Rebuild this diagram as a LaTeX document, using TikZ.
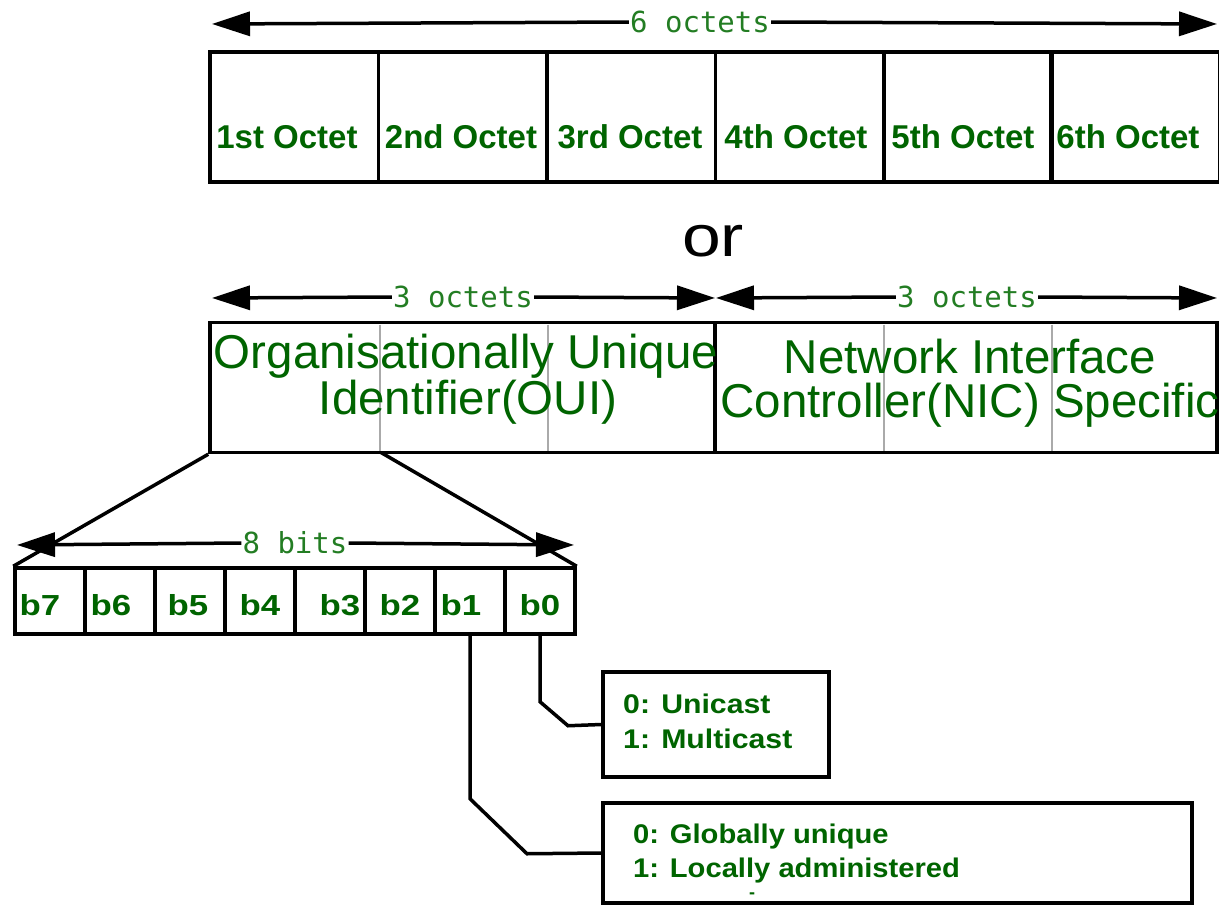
\documentclass[tikz,border=0pt]{standalone}
\usepackage{fontspec}
\setmainfont{Liberation Sans}
\newfontfamily\monof{DejaVu Sans Mono}
\usetikzlibrary{arrows.meta}
\definecolor{txtgreen}{RGB}{0,100,0}
\definecolor{lblgreen}{RGB}{35,125,35}
\definecolor{divgray}{RGB}{170,170,170}
\begin{document}
\begin{tikzpicture}[x=1pt,y=-1pt,
  box/.style={draw=black,line width=3.5pt,inner sep=0pt,rectangle},
  octbox/.style={box,minimum width=168.5pt,minimum height=130pt},
  bitbox/.style={box,minimum width=70pt,minimum height=66pt},
  dimtip/.style={line width=3.5pt,-{Triangle[length=38pt,width=24pt]}},
  dimlbl/.style={fill=white,inner sep=1pt,text=lblgreen,font=\monof\fontsize{29}{32}\selectfont},
  octtxt/.style={inner sep=0pt,anchor=base,text=txtgreen,font=\fontsize{33}{36}\selectfont\bfseries},
  bigtxt/.style={inner sep=0pt,anchor=base,text=txtgreen,font=\fontsize{47.5}{50}\selectfont},
  bittxt/.style={inner sep=0pt,anchor=base,text=txtgreen,font=\fontsize{29}{32}\selectfont\bfseries},
  notetxt/.style={inner sep=0pt,anchor=base west,text=txtgreen,font=\fontsize{27}{30}\selectfont\bfseries},
  conn/.style={line width=3.5pt,line join=miter}
]
\useasboundingbox (0,0) rectangle (1219,905);

% ---------- top row: 6 octets ----------
\coordinate (tl) at (212,24);
\coordinate (tr) at (1217,24);
\node[dimlbl] (six) at (700,22) {6 octets};
\draw[dimtip] (six.west) -- (tl);
\draw[dimtip] (six.east) -- (tr);

\node[octbox] (o1) at (294.25,117) {};
\node[octbox] (o2) at (462.75,117) {};
\node[octbox] (o3) at (631.25,117) {};
\node[octbox] (o4) at (799.75,117) {};
\node[octbox] (o5) at (968.25,117) {};
\node[octbox] (o6) at (1135,117) {};
\node[octtxt] (t1) at (287,148) {1st Octet};
\node[octtxt] (t2) at (461,148) {2nd Octet};
\node[octtxt] (t3) at (630,148) {3rd Octet};
\node[octtxt] (t4) at (796,148) {4th Octet};
\node[octtxt] (t5) at (963,148) {5th Octet};
\node[octtxt] (t6) at (1128,148) {6th Octet};

% ---------- or ----------
\node[inner sep=0pt,anchor=base,font=\fontsize{58}{60}\selectfont] (or) at (713,256) {\scalebox{1.2}[1]{or}};

% ---------- second row ----------
\coordinate (l1) at (212,298);
\coordinate (l2) at (715,298);
\coordinate (r1) at (716,298);
\coordinate (r2) at (1217,298);
\node[dimlbl] (oct3a) at (463,297) {3 octets};
\node[dimlbl] (oct3b) at (967,297) {3 octets};
\draw[dimtip] (oct3a.west) -- (l1);
\draw[dimtip] (oct3a.east) -- (l2);
\draw[dimtip] (oct3b.west) -- (r1);
\draw[dimtip] (oct3b.east) -- (r2);

\node[box,minimum width=505pt,minimum height=130pt] (oui) at (462.5,387.5) {};
\node[box,minimum width=502pt,minimum height=130pt] (nic) at (966,387.5) {};
\foreach \x in {380,548,884,1052}
  \draw[divgray,line width=1.5pt] (\x,324.5) -- (\x,450.5);
\node[bigtxt] (ouit1) at (466,368) {Organisationally Unique};
\node[bigtxt] (ouit2) at (468,414) {Identifier(OUI)};
\node[bigtxt] (nict1) at (970,373) {Network Interface};
\node[bigtxt] (nict2) at (970,417) {Controller(NIC) Specific};

% ---------- bits ----------
\node[bitbox] (b7) at (50,601) {};
\node[bitbox] (b6) at (120,601) {};
\node[bitbox] (b5) at (190,601) {};
\node[bitbox] (b4) at (260,601) {};
\node[bitbox] (b3) at (330,601) {};
\node[bitbox] (b2) at (400,601) {};
\node[bitbox] (b1) at (470,601) {};
\node[bitbox] (b0) at (540,601) {};
\node[bittxt] at (40,615) {\scalebox{1.2}[1]{b7}};
\node[bittxt] at (111,615) {\scalebox{1.2}[1]{b6}};
\node[bittxt] at (188,615) {\scalebox{1.2}[1]{b5}};
\node[bittxt] at (260,615) {\scalebox{1.2}[1]{b4}};
\node[bittxt] at (340,615) {\scalebox{1.2}[1]{b3}};
\node[bittxt] at (400,615) {\scalebox{1.2}[1]{b2}};
\node[bittxt] at (461,615) {\scalebox{1.2}[1]{b1}};
\node[bittxt] at (540,615) {\scalebox{1.2}[1]{b0}};

\coordinate (bl) at (17,545);
\coordinate (br) at (574,545);
\node[dimlbl] (eight) at (295,543) {8 bits};
\draw[dimtip] (eight.west) -- (bl);
\draw[dimtip] (eight.east) -- (br);

\coordinate (ouiq) at (381,452.5);
\draw[conn] (oui.south west) -- (b7.north west);
\draw[conn] (ouiq) -- (b0.north east);

% ---------- notes ----------
\node[box,minimum width=226pt,minimum height=105pt] (uni) at (716,724.5) {};
\node[notetxt] at (623,713) {\scalebox{1.12}[1]{0: Unicast}};
\node[notetxt] at (623,748) {\scalebox{1.12}[1]{1: Multicast}};

\node[box,minimum width=589pt,minimum height=100pt] (glob) at (897.5,853) {};
\node[notetxt] at (633,843) {\scalebox{1.08}[1]{0: Globally unique}};
\node[notetxt] at (633,877) {\scalebox{1.08}[1]{1: Locally administered}};
\node[inner sep=0pt,text=txtgreen,font=\fontsize{18}{20}\selectfont\bfseries] (dash) at (752,896) {-};

\draw[conn] (b0.south) -- ++(0,66) -- ++(28,24) -- (uni.west);
\draw[conn] (b1.south) -- ++(0,163) -- ++(57,55) -- (glob.west);
\end{tikzpicture}
\end{document}
